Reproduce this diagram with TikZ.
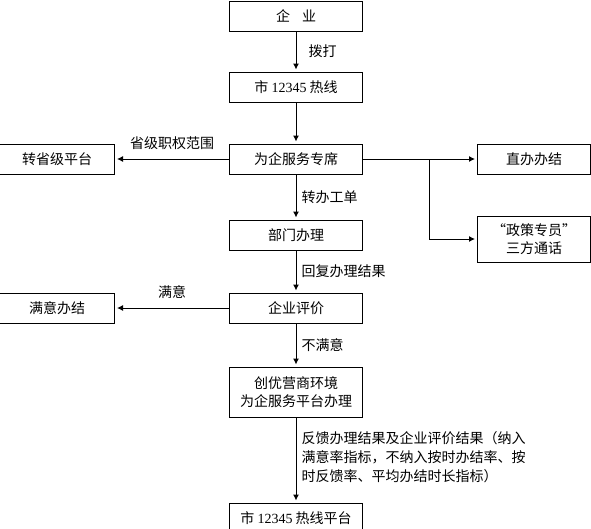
\documentclass[tikz,border=0pt]{standalone}
\usepackage{fontspec}
\setmainfont{Noto Sans CJK SC}
\newfontfamily\numfont{Liberation Serif}
\usepackage{tikz}
\usetikzlibrary{arrows.meta, positioning}

\begin{document}
\begin{tikzpicture}[
    x=1pt, y=1pt,
    node distance=40pt,
    box/.style={rectangle, draw, line width=1pt, minimum width=133pt, minimum height=30pt, inner sep=2pt, align=center, font=\fontsize{14}{18}\selectfont},
    sidebox/.style={box, minimum width=115pt},
    arr/.style={-{Latex[length=6pt, width=6pt]}, line width=1pt, shorten >=2pt},
    lbl/.style={font=\fontsize{14}{19}\selectfont, inner sep=0pt},
]
\useasboundingbox (0,0) rectangle (591,-528);

\node[box] (qiye) at (296,-16) {企\hspace{12pt}业};
\node[box, below=40pt of qiye] (rexian) {市 {\numfont 12345} 热线};
\node[box, below=41pt of rexian] (zhuanxi) {为企服务专席};
\node[sidebox, left=114pt of zhuanxi] (shengji) {转省级平台};
\node[sidebox, minimum width=113pt, right=114pt of zhuanxi] (zhiban) {直办办结};
\node[sidebox, minimum width=113pt, minimum height=46pt, below=41pt of zhiban] (zhengce) {“政策专员”\\三方通话};
\coordinate[right=66pt of zhuanxi.east] (fork);

\node[box, below=45pt of zhuanxi] (bumen) {部门办理};
\node[box, below=42pt of bumen] (pingjia) {企业评价};
\node[sidebox, left=114pt of pingjia] (manyi) {满意办结};
\node[box, minimum height=50pt, below=43pt of pingjia] (chuangyou) {创优营商环境\\为企服务平台办理};
\node[box, below=85pt of chuangyou] (pingtai) {市 {\numfont 12345} 热线平台};

\draw[arr] (qiye) -- (rexian) node[lbl, midway, right, xshift=12pt] {拨打};
\draw[arr] (rexian) -- (zhuanxi);
\draw[arr] (zhuanxi) -- (shengji) node[lbl, midway, above=9pt] {省级职权范围};
\draw[arr] (zhuanxi) -- (zhiban);
\draw[arr] (fork) |- (zhengce);
\draw[arr] (zhuanxi) -- (bumen) node[lbl, midway, right, xshift=5pt] {转办工单};
\draw[arr] (bumen) -- (pingjia) node[lbl, midway, right, xshift=5pt] {回复办理结果};
\draw[arr] (pingjia) -- (manyi) node[lbl, midway, above=9pt] {满意};
\draw[arr] (pingjia) -- (chuangyou) node[lbl, midway, right, xshift=5pt] {不满意};
\draw[arr] (chuangyou) -- (pingtai) node[lbl, midway, right, xshift=5pt, yshift=3pt, align=left]
    {反馈办理结果及企业评价结果（纳入\\满意率指标，不纳入按时办结率、按\\时反馈率、平均办结时长指标）};
\end{tikzpicture}
\end{document}
